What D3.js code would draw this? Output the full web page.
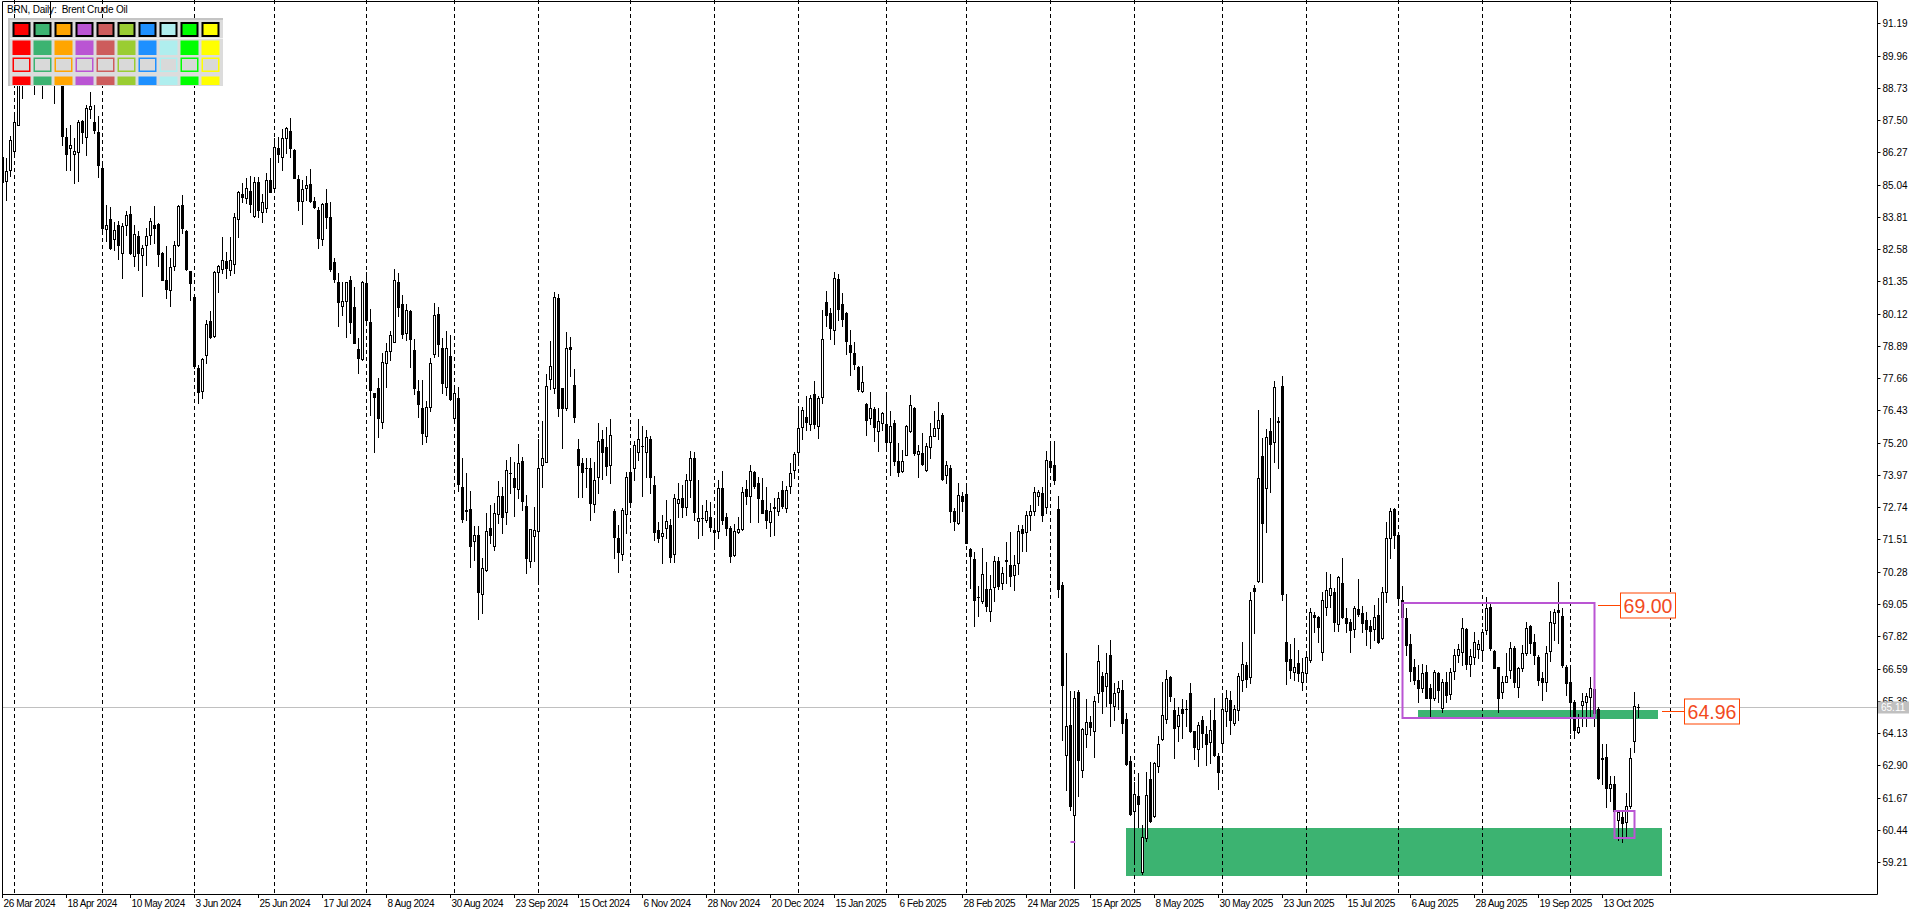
<!DOCTYPE html>
<html>
<head>
<meta charset="utf-8">
<script src="https://cdn.jsdelivr.net/npm/d3@7"></script>
<style>
  html, body { margin: 0; padding: 0; background: #fff; overflow: hidden; }
  svg { display: block; font-family: "Liberation Sans", Arial, sans-serif; }
</style>
</head>
<body>
<script>
// BRN daily candles, 26 Mar 2024 .. 24 Oct 2025, [open, high, low, close]
const ohlc = [
  // 0
  [86.08,86.20,85.00,85.14],[85.17,86.05,84.47,85.55],[85.58,86.88,85.36,86.73],[86.33,87.67,86.25,87.41],[87.33,89.50,87.30,88.98],
  [88.90,89.90,88.34,89.35],[89.30,91.00,89.00,90.65],[90.60,91.40,90.00,91.17],[91.00,91.30,88.50,90.38],[90.40,90.90,89.00,89.42],
  // 10
  [89.40,90.80,88.34,90.48],[90.50,90.90,89.30,89.74],[89.80,92.00,89.60,90.45],[90.60,91.00,88.15,90.10],[90.10,90.60,89.30,90.02],
  [90.00,90.20,86.56,86.88],[86.86,87.20,85.61,86.22],[86.42,87.30,85.58,86.55],[86.19,86.82,85.10,86.31],[86.27,87.50,85.19,87.41],
  // 20
  [87.45,87.52,86.63,87.03],[86.84,88.09,86.18,87.96],[87.91,88.57,87.58,88.02],[87.41,88.06,87.01,87.13],[87.03,87.64,85.32,85.80],
  [85.67,85.80,83.20,83.39],[83.36,84.25,82.88,83.49],[83.72,84.17,82.60,82.62],[82.98,83.62,82.56,83.31],[83.49,83.64,82.22,82.75],
  // 30
  [82.43,83.59,81.48,83.45],[83.49,84.05,83.13,83.87],[83.91,84.22,82.40,82.43],[82.31,83.51,81.92,83.17],[83.07,83.26,81.80,82.43],
  [82.37,82.75,80.81,82.62],[82.73,83.39,81.99,83.07],[83.13,83.77,82.79,83.64],[83.49,84.21,82.81,83.39],[83.54,83.56,81.92,82.41],
  // 40
  [82.43,82.46,81.40,81.42],[81.39,82.69,80.72,81.07],[81.03,82.24,80.40,81.90],[81.92,82.90,81.80,82.75],[82.73,84.25,82.69,84.21],
  [84.25,84.66,83.20,83.39],[83.26,83.30,81.80,81.84],[81.73,81.76,80.65,81.29],[80.74,80.80,78.05,78.11],[78.05,78.17,76.71,77.13],
  // 50
  [77.16,78.43,76.90,78.39],[78.53,79.89,78.24,79.73],[79.84,80.22,79.18,79.24],[79.28,81.75,79.24,81.72],[81.70,81.98,80.96,81.92],
  [81.82,83.06,81.66,82.17],[82.13,82.48,81.49,81.85],[81.77,83.06,81.59,82.17],[82.00,83.94,81.66,83.79],[83.73,84.80,83.06,84.75],
  // 60
  [84.70,85.09,84.39,84.58],[84.52,85.28,84.33,84.90],[84.80,85.38,84.01,84.29],[83.86,85.34,83.82,85.13],[85.13,85.34,83.82,84.07],
  [84.01,84.67,83.63,84.36],[84.14,85.47,84.01,85.22],[85.22,86.04,84.75,84.77],[84.92,86.80,84.83,86.46],[86.45,86.87,85.91,86.21],
  // 70
  [86.08,87.16,85.60,86.80],[86.80,87.25,86.23,87.19],[87.08,87.57,86.11,86.45],[86.36,86.40,85.28,85.30],[85.25,85.41,84.07,84.43],
  [84.43,85.22,83.53,84.87],[84.92,85.37,84.45,85.02],[85.05,85.64,84.36,84.43],[84.42,84.58,84.14,84.17],[84.07,84.20,82.61,82.99],
  // 80
  [82.95,84.33,82.74,84.29],[84.33,84.86,83.37,83.82],[83.79,84.36,81.75,81.82],[82.08,82.23,81.34,81.44],[81.31,81.66,79.66,80.58],
  [80.42,81.31,80.07,80.60],[80.60,81.34,79.24,81.31],[81.40,81.57,79.37,79.81],[80.39,81.15,78.99,78.99],[78.76,79.18,77.84,78.42],
  // 90
  [78.39,81.37,78.35,81.34],[81.28,81.72,79.85,79.88],[79.79,80.30,76.26,77.21],[77.08,77.10,74.86,76.96],[77.27,77.65,75.43,76.15],
  [75.98,78.61,75.77,78.27],[78.23,78.99,77.34,78.71],[78.70,79.46,78.35,79.31],[79.05,81.82,79.03,81.39],[81.31,81.66,80.04,80.39],
  // 100
  [80.48,80.83,79.18,79.36],[79.39,80.48,79.12,80.27],[80.22,80.25,78.07,79.14],[78.73,79.14,77.04,77.30],[77.17,77.59,76.17,76.66],
  [76.53,77.59,75.15,75.58],[75.46,76.80,75.24,76.57],[76.57,78.42,76.41,78.23],[78.57,80.51,78.48,80.07],[80.11,80.36,78.52,78.95],
  // 110
  [78.80,79.18,77.08,77.46],[77.31,79.46,77.02,78.80],[78.51,79.31,76.83,76.85],[76.13,77.31,75.94,77.08],[76.89,77.31,73.37,73.63],
  [73.50,74.63,72.19,72.28],[72.62,74.03,72.25,72.60],[72.66,73.37,70.45,71.27],[71.47,72.02,70.73,71.68],[71.68,72.02,68.47,69.52],
  // 120
  [69.42,70.79,68.72,70.41],[70.35,72.53,70.32,71.83],[71.94,72.83,71.36,71.70],[71.27,72.89,71.11,72.51],[72.47,73.75,72.13,73.17],
  [73.17,73.52,71.77,72.38],[72.57,74.54,72.10,74.16],[74.03,74.67,73.29,74.04],[73.84,74.48,72.42,73.50],[73.42,75.15,73.08,74.44],
  // 130
  [74.50,74.67,72.63,72.99],[72.80,73.21,70.25,70.79],[70.70,71.92,70.45,71.90],[71.64,72.74,70.70,71.87],[71.83,75.33,69.86,74.22],
  [74.34,76.04,73.50,74.60],[74.48,77.82,74.45,77.36],[77.63,79.09,77.24,78.12],[77.27,80.93,77.11,80.77],[80.70,80.86,76.22,76.51],
  // 140
  [77.27,77.30,74.99,76.51],[76.51,79.43,76.45,78.80],[78.84,79.24,77.74,78.76],[77.40,78.00,76.00,76.17],[74.95,75.33,73.14,74.35],
  [74.44,74.60,73.14,74.10],[74.22,74.60,73.50,74.22],[74.22,74.60,72.25,72.89],[72.85,74.48,72.55,73.78],[73.88,75.94,73.27,75.28],
  // 150
  [75.35,75.68,73.80,74.83],[75.02,75.81,73.97,74.31],[74.34,76.09,73.65,75.48],[72.60,72.67,70.82,71.62],[71.56,72.06,70.26,71.02],
  [70.95,72.70,70.73,72.63],[72.47,74.10,71.75,73.88],[74.07,74.83,72.83,72.95],[74.22,75.27,73.78,75.11],[74.86,76.10,74.54,75.34],
  // 160
  [75.08,75.85,73.18,75.07],[74.83,75.68,73.91,75.43],[75.34,75.47,73.30,73.88],[73.59,73.93,71.49,71.78],[71.87,72.16,71.43,71.58],
  [71.66,72.44,70.60,71.75],[71.94,73.02,71.58,72.22],[72.06,72.29,70.64,70.86],[70.94,73.23,70.64,73.11],[72.89,73.65,72.38,73.05],
  // 170
  [73.08,73.59,72.38,72.76],[72.76,74.00,72.44,73.78],[73.78,74.88,73.14,74.60],[74.63,74.83,72.25,72.57],[72.23,73.78,71.58,72.32],
  [72.32,72.83,71.68,72.33],[72.25,73.02,72.19,72.61],[72.36,72.95,71.83,72.00],[71.87,72.19,71.30,71.81],[71.83,73.78,71.58,73.49],
  // 180
  [73.49,74.12,72.09,72.25],[72.38,72.51,71.68,71.94],[71.96,72.04,70.67,70.89],[70.92,72.09,70.89,71.83],[71.78,72.38,71.75,71.91],
  [71.91,73.52,71.87,73.31],[73.44,73.78,72.85,73.18],[73.18,74.35,72.19,74.12],[74.07,74.12,73.46,73.56],[73.65,73.91,72.19,73.08],
  // 190
  [73.02,73.87,72.51,72.53],[72.63,73.52,71.94,72.25],[72.19,72.89,71.66,72.61],[72.73,73.08,71.68,72.72],[72.60,73.33,72.44,73.11],
  [73.40,73.74,72.70,72.80],[72.70,73.56,72.57,73.40],[73.56,74.41,73.27,74.03],[74.16,74.83,73.87,74.76],[74.83,76.45,74.50,75.75],
  // 200
  [75.81,76.58,75.34,76.45],[76.19,76.99,75.69,75.98],[75.90,77.02,75.69,76.89],[77.04,77.55,75.75,75.90],[75.83,76.97,75.38,76.90],
  [76.93,80.27,76.71,79.17],[80.56,80.99,79.64,80.08],[80.15,80.34,79.17,79.57],[79.51,81.71,78.96,81.48],[81.44,81.63,79.89,80.31],
  // 210
  [80.49,80.91,79.64,79.93],[80.15,80.20,78.58,79.07],[78.91,79.51,77.77,78.65],[78.62,79.04,78.02,78.21],[78.07,78.11,77.16,77.26],
  [77.16,78.11,77.13,77.51],[76.68,76.70,75.48,76.08],[76.14,77.13,75.91,76.52],[76.49,76.55,75.25,75.79],[75.64,76.52,74.87,76.04],
  // 220
  [75.95,76.37,75.70,76.33],[75.91,76.97,75.00,75.21],[75.21,76.42,73.98,75.83],[75.95,76.08,74.36,74.51],[74.49,75.19,73.92,74.08],
  [74.11,74.94,74.08,74.51],[74.74,75.89,74.72,75.83],[75.66,77.03,75.61,76.65],[76.52,76.55,74.72,74.81],[74.78,75.13,73.88,74.90],
  // 230
  [74.81,75.57,74.34,74.39],[74.17,75.19,74.14,75.06],[75.02,75.95,74.62,75.45],[75.47,76.42,75.44,75.76],[75.76,76.75,75.35,76.08],
  [76.27,76.33,73.79,73.83],[73.98,74.51,73.67,74.34],[74.24,74.36,72.18,72.58],[72.58,72.71,71.88,72.20],[72.14,73.67,72.10,73.22],
  // 240
  [73.18,73.32,72.61,72.96],[73.26,73.54,71.38,71.38],[71.16,71.19,69.66,70.87],[70.78,71.04,68.20,69.22],[69.30,69.72,68.58,69.31],
  [69.15,71.19,69.09,70.18],[69.64,70.65,68.80,68.96],[68.77,70.17,68.39,69.64],[69.69,70.87,69.18,70.70],[70.68,70.83,69.64,69.72],
  // 250
  [69.85,70.45,69.64,70.23],[70.70,71.41,69.85,70.72],[70.52,71.80,69.72,70.10],[70.17,70.93,69.60,70.52],[70.61,72.05,70.20,71.82],
  [71.92,72.08,71.06,71.76],[71.80,72.61,71.06,72.46],[72.46,72.84,71.88,72.58],[72.61,73.50,72.46,73.32],[73.16,73.41,72.81,73.32],
  // 260
  [73.28,73.50,72.20,72.46],[72.74,74.90,72.52,74.55],[74.51,75.10,74.17,74.26],[74.35,75.26,73.63,73.78],[72.66,73.16,69.30,69.63],
  [69.76,69.89,63.86,65.95],[63.28,67.19,61.96,64.40],[64.44,65.73,61.18,61.35],[61.02,65.73,58.21,65.47],[65.69,65.77,61.73,63.11],
  // 270
  [62.73,64.31,62.47,64.27],[64.09,65.43,63.60,64.56],[64.56,64.77,64.06,64.35],[64.22,65.56,63.21,65.34],[65.67,67.47,65.30,66.88],
  [66.31,66.46,64.89,65.73],[65.92,67.19,65.17,66.41],[67.11,67.67,64.40,65.28],[65.15,66.05,64.63,65.64],[65.69,66.11,65.05,65.86],
  // 280
  [65.79,66.15,64.14,64.50],[64.66,64.89,62.93,62.96],[63.08,63.24,61.02,61.05],[61.15,62.25,59.20,61.79],[61.73,62.59,60.54,61.41],
  [58.83,60.63,58.77,60.18],[60.12,62.63,60.02,61.76],[62.38,63.02,60.74,60.79],[60.96,63.02,60.92,62.98],[62.89,64.01,62.64,63.70],
  // 290
  [63.92,66.07,63.86,64.83],[64.66,66.54,64.53,66.20],[66.25,66.31,65.34,65.54],[65.00,65.47,63.19,64.31],[64.40,65.12,63.83,64.83],
  [65.05,65.43,63.96,64.89],[65.04,65.40,64.40,65.05],[65.64,66.05,64.16,64.19],[64.19,64.21,63.15,63.60],[63.54,64.56,62.86,64.44],
  // 300
  [64.61,64.77,63.60,64.12],[64.10,64.40,62.93,63.73],[63.79,65.02,62.98,64.25],[64.61,65.47,63.27,63.31],[63.24,63.37,61.99,62.64],
  [63.75,65.51,63.54,65.05],[64.96,65.77,64.40,65.47],[65.38,65.73,64.09,64.63],[64.50,65.21,64.44,65.05],[65.00,66.41,64.63,66.31],
  // 310
  [66.15,67.59,65.73,66.75],[66.72,66.84,65.90,66.20],[66.25,69.50,66.05,69.21],[69.65,69.78,67.93,69.56],[69.93,76.45,69.88,73.84],
  [74.69,75.39,69.88,72.13],[73.49,75.72,71.78,75.43],[75.65,76.16,73.33,75.14],[75.21,77.55,74.48,77.34],[76.02,76.19,74.25,75.98],
  // 320
  [77.38,77.76,69.20,69.42],[67.59,69.42,65.99,66.88],[66.95,67.51,66.22,66.54],[66.47,67.74,66.15,66.66],[66.79,67.30,66.12,66.41],
  [66.07,67.00,65.77,66.45],[66.41,67.26,66.09,67.04],[66.92,68.91,66.83,68.76],[68.63,68.76,68.00,68.57],[68.57,68.61,67.59,68.19],
  // 330
  [67.23,69.52,66.92,69.20],[68.95,70.26,68.63,69.57],[69.39,70.18,68.95,69.65],[69.50,69.67,68.02,68.38],[68.28,70.13,68.02,70.08],
  [69.84,70.82,68.51,68.57],[68.53,68.89,68.00,68.31],[68.38,68.48,67.21,68.06],[68.10,68.99,67.81,68.89],[68.85,70.00,68.61,68.66],
  // 340
  [68.70,68.99,68.00,68.31],[68.44,68.73,67.49,68.10],[68.21,68.44,67.39,68.02],[68.10,69.01,67.68,68.57],[68.63,69.27,67.55,67.59],
  [67.74,69.71,67.72,69.52],[69.50,72.19,69.14,71.58],[71.58,72.72,70.82,72.60],[72.67,72.70,71.20,71.67],[71.67,71.70,69.11,69.29],
  // 350
  [69.20,69.75,68.30,68.55],[68.50,68.91,67.11,67.49],[67.51,67.90,66.10,66.50],[66.66,66.95,65.99,66.15],[66.15,66.73,65.30,65.86],
  [65.86,66.76,65.68,66.41],[66.45,66.73,65.45,65.48],[65.86,65.99,64.76,65.45],[65.45,66.53,65.39,66.45],[66.41,66.45,65.33,65.77],
  // 360
  [65.10,66.18,64.92,66.06],[66.09,66.45,65.30,65.58],[65.61,66.60,65.43,66.47],[66.50,67.34,66.19,67.11],[67.11,67.51,66.85,67.34],
  [67.23,68.50,66.73,68.15],[68.10,68.15,66.57,66.75],[66.75,67.34,66.32,67.08],[67.04,67.99,66.75,67.59],[67.33,67.68,67.00,67.51],
  // 370
  [67.30,68.10,66.92,68.00],[68.06,69.33,67.89,68.89],[68.95,69.08,67.30,67.36],[67.26,67.30,66.60,66.62],[66.66,66.66,64.92,65.45],
  [65.71,66.32,65.48,66.07],[66.09,67.17,66.06,66.32],[66.53,67.59,66.22,67.39],[67.39,67.45,65.90,66.09],[65.90,66.63,65.52,66.60],
  // 380
  [66.60,67.49,66.50,67.17],[67.17,68.38,67.11,68.15],[68.23,68.25,67.17,67.55],[67.59,67.89,66.75,67.11],[67.04,67.11,65.96,66.15],
  [66.24,66.45,65.39,66.09],[66.09,67.45,65.73,67.17],[67.26,68.78,66.88,68.35],[68.31,68.86,67.68,68.76],[68.82,69.90,67.55,68.76],
  // 390
  [68.61,68.91,66.66,66.72],[66.66,66.73,65.58,66.03],[66.09,66.57,64.12,65.33],[65.33,65.39,63.95,64.25],[64.18,64.84,64.12,64.37],
  [65.20,65.64,64.38,65.35],[65.30,65.64,64.38,65.56],[65.52,66.28,64.76,65.86],[65.80,66.00,64.40,64.90],[65.05,65.13,62.38,62.40],
  // 400
  [63.19,63.70,62.18,63.14],[63.23,63.70,61.32,62.05],[62.02,62.50,61.54,62.17],[62.18,62.50,60.90,61.14],[60.82,61.16,60.05,61.11],
  [60.92,61.11,59.99,60.69],[60.73,61.83,60.18,61.35],[61.33,63.55,61.29,63.17],[63.84,65.68,63.40,65.18],[65.12,65.23,64.76,65.11]
];

const dateLabels = ["26 Mar 2024","18 Apr 2024","10 May 2024","3 Jun 2024","25 Jun 2024","17 Jul 2024",
  "8 Aug 2024","30 Aug 2024","23 Sep 2024","15 Oct 2024","6 Nov 2024","28 Nov 2024","20 Dec 2024",
  "15 Jan 2025","6 Feb 2025","28 Feb 2025","24 Mar 2025","15 Apr 2025","8 May 2025","30 May 2025",
  "23 Jun 2025","15 Jul 2025","6 Aug 2025","28 Aug 2025","19 Sep 2025","13 Oct 2025"];
const labelEvery = 16;
const monthStartBars = [3,25,48,68,91,113,134,157,178,199,221,241,262,283,305,326,349,370,392,417];

const priceTicks = [91.19,89.96,88.73,87.50,86.27,85.04,83.81,82.58,81.35,80.12,78.89,77.66,76.43,
  75.20,73.97,72.74,71.51,70.28,69.05,67.82,66.59,65.36,64.13,62.90,61.67,60.44,59.21];
const lastPrice = 65.11;

// [fromBar, toBar, topPrice, bottomPrice]
const greenZones = [[281, 415, 60.51, 58.69], [354, 414, 65.00, 64.68]];
const purpleBoxes = [[350, 398, 69.10, 64.72], [403, 408, 61.17, 60.14]];
const purpleMarks = [[267, 268.2, 59.99]];
// [price, bar where the label line starts]
const levelLabels = [[69.00, 398], [64.96, 414]];

const swatchColors = ["#ff0000","#3cb371","#ffa500","#ba55d3","#cd5c5c","#9acd32","#1e90ff","#afeeee","#00ff00","#ffff00"];

const W = 1920, H = 915;
const plot = {left: 2, right: 1877, top: 1, bottom: 894};

const x = d3.scaleLinear().domain([0, 1]).range([2.5, 6.5]);
const y = d3.scaleLinear().domain([59.21, 91.19]).range([862.1, 23.3]);
const yr = y.copy().interpolate(d3.interpolateRound);
const fmt = d3.format(".2f");

const svg = d3.select("body").append("svg").attr("width", W).attr("height", H);
svg.append("rect").attr("width", W).attr("height", H).attr("fill", "#fff");

svg.append("defs").append("clipPath").attr("id", "plotClip").append("rect")
    .attr("x", plot.left).attr("y", 0)
    .attr("width", plot.right - plot.left).attr("height", plot.bottom);

const body = svg.append("g").attr("clip-path", "url(#plotClip)");

// green zones sit behind everything
body.selectAll("rect.zone").data(greenZones).join("rect")
    .attr("class", "zone")
    .attr("x", d => x(d[0]) - 0.5)
    .attr("width", d => x(d[1]) - x(d[0]))
    .attr("y", d => yr(d[2]))
    .attr("height", d => yr(d[3]) - yr(d[2]))
    .attr("fill", "#3cb371");

// month separators
body.selectAll("line.grid").data(monthStartBars).join("line")
    .attr("class", "grid")
    .attr("x1", d => x(d)).attr("x2", d => x(d))
    .attr("y1", 0).attr("y2", plot.bottom)
    .attr("stroke", "#000").attr("stroke-dasharray", "4,3");

// bid line
body.append("line")
    .attr("x1", plot.left).attr("x2", plot.right)
    .attr("y1", yr(lastPrice) + 0.5).attr("y2", yr(lastPrice) + 0.5)
    .attr("stroke", "#c0c0c0");

// legend panel background and title (under the candles)
const panel = svg.append("g");
panel.append("rect").attr("x", 8).attr("y", 18).attr("width", 215).attr("height", 68).attr("fill", "#dcdcdc");
panel.append("rect").attr("x", 8).attr("y", 18).attr("width", 215).attr("height", 2).attr("fill", "#c4c4c4");
panel.append("rect").attr("x", 8).attr("y", 18).attr("width", 2).attr("height", 68).attr("fill", "#c4c4c4");
panel.append("line").attr("x1", 10).attr("x2", 223).attr("y1", 38.5).attr("y2", 38.5).attr("stroke", "#f2f2f2");

svg.append("text")
    .attr("x", 7).attr("y", 12.5)
    .attr("font-size", 10).attr("letter-spacing", -0.2)
    .style("white-space", "pre")
    .text("BRN, Daily:  Brent Crude Oil");

// candles
const cg = body.append("g").selectAll("g").data(ohlc).join("g")
    .attr("transform", (d, i) => `translate(${x(i)},0)`);

cg.append("line")
    .attr("y1", d => yr(Math.max(d[0], d[1], d[3])))
    .attr("y2", d => yr(Math.min(d[0], d[2], d[3])) + 1)
    .attr("stroke", "#000");

cg.each(function(d) {
  const [o, , , c] = d;
  const t = yr(Math.max(o, c)), b = yr(Math.min(o, c));
  const s = d3.select(this);
  if (b - t < 1) {
    s.append("line").attr("x1", -1.5).attr("x2", 1.5)
        .attr("y1", t + 0.5).attr("y2", t + 0.5).attr("stroke", "#000");
  } else if (c < o) {
    s.append("rect").attr("x", -1.5).attr("y", t).attr("width", 3).attr("height", b - t + 1).attr("fill", "#000");
  } else {
    s.append("rect").attr("x", -1).attr("y", t + 0.5).attr("width", 2).attr("height", b - t)
        .attr("fill", "#fff").attr("stroke", "#000");
  }
});

// purple rectangles
body.selectAll("rect.box").data(purpleBoxes).join("rect")
    .attr("class", "box")
    .attr("x", d => x(d[0])).attr("width", d => x(d[1]) - x(d[0]))
    .attr("y", d => yr(d[2])).attr("height", d => yr(d[3]) - yr(d[2]))
    .attr("fill", "none").attr("stroke", "#ba55d3").attr("stroke-width", 2);

body.selectAll("line.mark").data(purpleMarks).join("line")
    .attr("class", "mark")
    .attr("x1", d => x(d[0])).attr("x2", d => x(d[1]))
    .attr("y1", d => yr(d[2])).attr("y2", d => yr(d[2]))
    .attr("stroke", "#ba55d3").attr("stroke-width", 2);

// price level labels
const lv = svg.selectAll("g.level").data(levelLabels).join("g")
    .attr("class", "level")
    .attr("transform", d => `translate(${x(d[1]) + 3.5},${yr(d[0]) + 0.5})`);
lv.append("line").attr("x1", 0).attr("x2", 22).attr("stroke", "#ff4500");
lv.append("rect").attr("x", 22.5).attr("y", -12.5).attr("width", 55).attr("height", 25)
    .attr("fill", "#fff").attr("stroke", "#ff4500");
lv.append("text").attr("x", 50).attr("y", 0).attr("dy", "0.36em")
    .attr("text-anchor", "middle").attr("font-size", 19.5).attr("fill", "#f24a1e")
    .text(d => fmt(d[0]));

// legend swatches
const sw = svg.append("g").selectAll("g").data(swatchColors).join("g")
    .attr("transform", (d, k) => `translate(${12.5 + 21 * k},0)`);
sw.append("rect").attr("x", 1).attr("y", 23).attr("width", 16).attr("height", 13)
    .attr("fill", d => d).attr("stroke", "#000").attr("stroke-width", 2);
sw.append("rect").attr("x", 0).attr("y", 40.5).attr("width", 18).attr("height", 14.5).attr("fill", d => d);
sw.append("rect").attr("x", 0.75).attr("y", 58.25).attr("width", 16.5).attr("height", 13)
    .attr("fill", "#d9d9d9").attr("stroke", d => d).attr("stroke-width", 1.5);
sw.append("rect").attr("x", 0).attr("y", 76.5).attr("width", 18).attr("height", 8.5).attr("fill", d => d);

// frame
svg.append("path")
    .attr("d", `M${plot.left + 0.5},${plot.bottom + 0.5}V${plot.top + 0.5}H${plot.right + 0.5}V${plot.bottom + 0.5}H${plot.left + 0.5}`)
    .attr("fill", "none").attr("stroke", "#000");

// price axis
svg.append("g")
    .attr("transform", `translate(${plot.right + 0.5},0)`)
    .call(d3.axisRight(yr).tickValues(priceTicks).tickSize(3).tickPadding(2).tickFormat(fmt))
    .call(g => g.select(".domain").remove())
    .call(g => g.attr("font-family", null).attr("font-size", 10))
    .call(g => g.selectAll("text").attr("fill", "#000"));

// time axis
svg.append("g")
    .attr("transform", `translate(0,${plot.bottom})`)
    .call(d3.axisBottom(x).offset(0)
        .tickValues(dateLabels.map((_, k) => k * labelEvery))
        .tickSize(4).tickPadding(2)
        .tickFormat((d, k) => dateLabels[k]))
    .call(g => g.select(".domain").remove())
    .call(g => g.attr("font-family", null).attr("font-size", 10))
    .call(g => g.selectAll("text").attr("fill", "#000").attr("text-anchor", "start")
        .attr("x", 1).attr("letter-spacing", -0.4));

// last price tag on the axis
const tag = svg.append("g").attr("transform", `translate(${plot.right + 1},${yr(lastPrice)})`);
tag.append("rect").attr("x", 0).attr("y", -5.5).attr("width", 31).attr("height", 12).attr("fill", "#c0c0c0");
tag.append("text").attr("x", 3).attr("y", 0.5).attr("dy", "0.36em")
    .attr("font-size", 10).attr("fill", "#fff").text(fmt(lastPrice));
</script>
</body>
</html>
